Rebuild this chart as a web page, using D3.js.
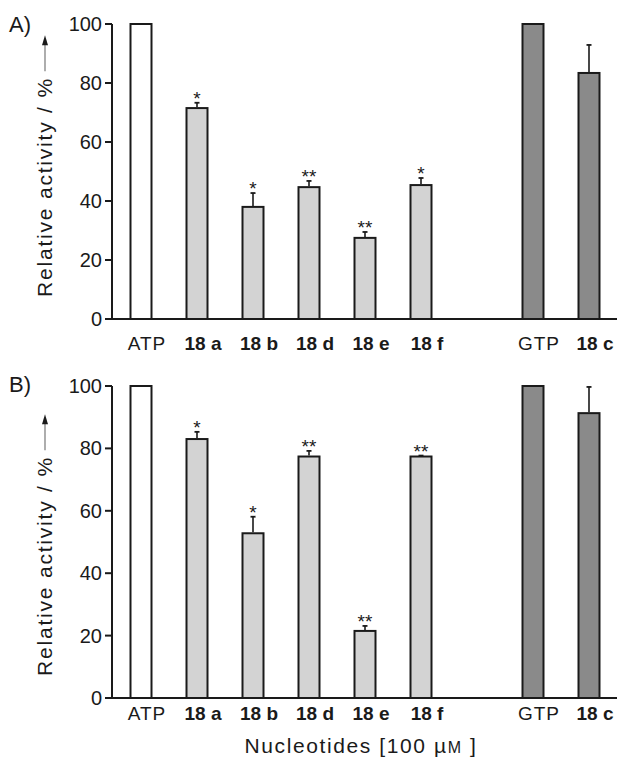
<!DOCTYPE html>
<html>
<head>
<meta charset="UTF-8">
<script src="https://d3js.org/d3.v7.min.js"></script>
<style>
	body{ margin: 0; background: #fff; }
	svg{ display: block; }
	text{ font-family: "Liberation Sans", Arial, sans-serif; fill: #1a1a1a; }
</style>
</head>
<body>
<svg width="626" height="775"></svg>
<script>
	// Categories (the empty slot is the gap between 18 f and GTP)
	var categories = ["ATP", "18 a", "18 b", "18 d", "18 e", "18 f", "GTP", "18 c"];
	var slots = ["ATP", "18 a", "18 b", "18 d", "18 e", "18 f", "", "GTP", "18 c"];
	var kinds = ["atp", "cmpd", "cmpd", "cmpd", "cmpd", "cmpd", "gtp", "gtp"];
	var yTicks = [0, 20, 40, 60, 80, 100];

	// Panel A values
	var valuesA = [100, 71.5, 38, 44.7, 27.5, 45.4, 100, 83.4];
	var errorsA = [0, 1.8, 4.7, 2.1, 2, 2.4, 0, 9.5];
	var starsA = ["", "*", "*", "**", "**", "*", "", ""];

	// Panel B values
	var valuesB = [100, 83, 52.8, 77.4, 21.5, 77.4, 100, 91.3];
	var errorsB = [0, 2.3, 5.3, 1.8, 1.6, 0.3, 0, 8.4];
	var starsB = ["", "*", "*", "**", "**", "**", "", ""];

	var fills = {atp: "#ffffff", cmpd: "#d3d3d3", gtp: "#8a8a8a"};
	var ink = "#1a1a1a";

	var svg = d3.select("svg");

	var x = d3.scalePoint()
				.domain(slots)
				.range([141, 589]);

	var barW = 21;

	// Draw one panel
	function drawPanel(label, values, errors, stars, top, bottom, labelOffset, labelY){
		var y = d3.scaleLinear().domain([0, 100]).range([bottom, top]);
		var g = svg.append("g");

		var rows = categories.map(function(c, i){
			return {name: c, value: values[i], err: errors[i], star: stars[i], kind: kinds[i]};
		});

		// bars
		g.selectAll("rect.bar")
			.data(rows).enter()
			.append("rect")
			.attr("class", "bar")
			.attr("x", function(d){ return x(d.name) - barW/2; })
			.attr("y", function(d){ return y(d.value); })
			.attr("width", barW)
			.attr("height", function(d){ return y(0) - y(d.value); })
			.style("fill", function(d){ return fills[d.kind]; })
			.style("stroke", ink)
			.style("stroke-width", 2);

		// error bars (upper only)
		var withErr = rows.filter(function(d){ return d.err > 0; });
		g.selectAll("line.err")
			.data(withErr).enter()
			.append("line")
			.attr("x1", function(d){ return x(d.name); })
			.attr("x2", function(d){ return x(d.name); })
			.attr("y1", function(d){ return y(d.value) - 1; })
			.attr("y2", function(d){ return y(d.value + d.err); })
			.style("stroke", ink)
			.style("stroke-width", 1.6);
		g.selectAll("line.cap")
			.data(withErr).enter()
			.append("line")
			.attr("x1", function(d){ return x(d.name) - 2.5; })
			.attr("x2", function(d){ return x(d.name) + 2.5; })
			.attr("y1", function(d){ return y(d.value + d.err); })
			.attr("y2", function(d){ return y(d.value + d.err); })
			.style("stroke", ink)
			.style("stroke-width", 1.8);

		// significance stars
		g.selectAll("text.star")
			.data(rows.filter(function(d){ return d.star != ""; })).enter()
			.append("text")
			.attr("x", function(d){ return x(d.name); })
			.attr("y", function(d){ return y(d.value + d.err) + 2; })
			.attr("text-anchor", "middle")
			.attr("font-size", 19)
			.text(function(d){ return d.star; });

		// axes
		g.append("line")
			.attr("x1", 105).attr("x2", 617)
			.attr("y1", y(0)).attr("y2", y(0))
			.style("stroke", ink).style("stroke-width", 2);
		g.append("line")
			.attr("x1", 112).attr("x2", 112)
			.attr("y1", y(100)).attr("y2", y(0))
			.style("stroke", ink).style("stroke-width", 2);
		g.selectAll("line.tick")
			.data(yTicks).enter()
			.append("line")
			.attr("x1", 105).attr("x2", 112)
			.attr("y1", function(d){ return y(d); })
			.attr("y2", function(d){ return y(d); })
			.style("stroke", ink).style("stroke-width", 2);
		g.selectAll("text.ytick")
			.data(yTicks).enter()
			.append("text")
			.attr("x", 102)
			.attr("y", function(d){ return y(d) + 7; })
			.attr("text-anchor", "end")
			.attr("font-size", 20)
			.text(function(d){ return d; });

		// category labels
		g.selectAll("text.xtick")
			.data(rows).enter()
			.append("text")
			.attr("x", function(d){ return x(d.name) + 6; })
			.attr("y", y(0) + labelOffset)
			.attr("text-anchor", "middle")
			.attr("font-size", 19)
			.attr("font-weight", function(d){ return d.kind == "cmpd" || d.name == "18 c" ? "bold" : "normal"; })
			.attr("letter-spacing", function(d){ return d.name.length > 3 ? 0 : 1; })
			.text(function(d){ return d.name; });

		// panel letter
		g.append("text")
			.attr("x", 9)
			.attr("y", labelY)
			.attr("font-size", 22)
			.text(label);

		// y title with arrow
		var title = g.append("g")
					.attr("transform", "translate(52," + (y(0) - 22) + ") rotate(-90)");
		var t = title.append("text")
					.attr("x", 0)
					.attr("y", 0)
					.attr("font-size", 21)
					.attr("letter-spacing", 1.8)
					.text("Relative activity / %");
		var len = t.node().getComputedTextLength();
		title.append("line")
			.attr("x1", len + 6).attr("x2", len + 34)
			.attr("y1", -7).attr("y2", -7)
			.style("stroke", "#777").style("stroke-width", 1.2);
		title.append("path")
			.attr("d", "M" + (len + 32) + ",-10 L" + (len + 42) + ",-7 L" + (len + 32) + ",-4 Z")
			.style("fill", ink);
	}

	drawPanel("A)", valuesA, errorsA, starsA, 24, 319, 31, 32);
	drawPanel("B)", valuesB, errorsB, starsB, 386, 698, 22, 392);

	// x title
	var xt = svg.append("text")
				.attr("x", 361)
				.attr("y", 753)
				.attr("text-anchor", "middle")
				.attr("font-size", 21)
				.attr("letter-spacing", 1.6);
	xt.append("tspan").text("Nucleotides [100 µ");
	xt.append("tspan").attr("font-size", 16).text("M");
	xt.append("tspan").text(" ]");
</script>
</body>
</html>
